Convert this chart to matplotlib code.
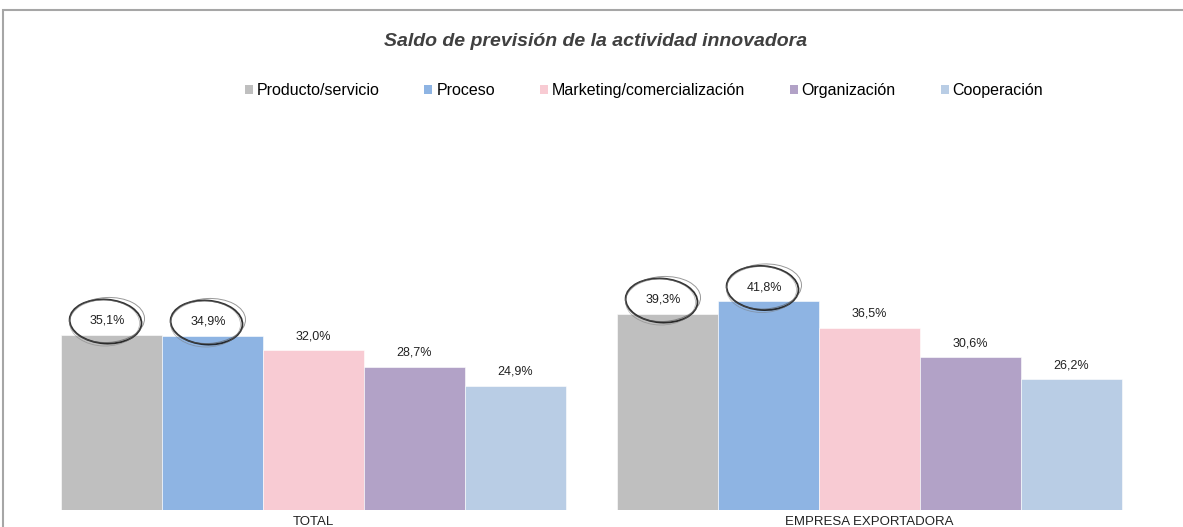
import numpy as np
import matplotlib
matplotlib.use("Agg")
import matplotlib.pyplot as plt
import matplotlib.transforms as mtransforms
from matplotlib.patches import Patch, Ellipse, Rectangle

plt.rcParams['font.family'] = ['Liberation Sans', 'DejaVu Sans']

groups = ['TOTAL', 'EMPRESA EXPORTADORA']
series = ['Producto/servicio', 'Proceso', 'Marketing/comercialización',
          'Organización', 'Cooperación']
values = [
    [35.1, 39.3],   # Producto/servicio
    [34.9, 41.8],   # Proceso
    [32.0, 36.5],   # Marketing/comercialización
    [28.7, 30.6],   # Organización
    [24.9, 26.2],   # Cooperación
]
colors = ['#BFBFBF', '#8EB4E3', '#F8CBD3', '#B2A2C7', '#B9CDE5']
# labels circled by hand in the original (series index, group index)
circled = [(0, 0), (1, 0), (0, 1), (1, 1)]

W, H = 1183, 527
fig = plt.figure(figsize=(W / 100, H / 100), dpi=100)
ax = fig.add_axes([35.5 / W, 17 / H, 1112 / W, 395 / H])

# chart frame (cut at right / bottom)
fig.patches.append(Rectangle((3 / W, -0.1), 1.2, (H - 10) / H + 0.1,
                             transform=fig.transFigure, fill=False,
                             edgecolor='#A6A6A6', lw=1.5))

ax.set_xlim(-0.5, 1.5)
ax.set_ylim(0, 79)

x = np.arange(len(groups))
bw = 0.908 / len(series)
for i, (name, vals) in enumerate(zip(series, values)):
    pos = x - 0.454 + bw * (i + 0.5)
    ax.bar(pos, vals, width=bw, color=colors[i], edgecolor='white', lw=0.4)
    for j, (p, v) in enumerate(zip(pos, vals)):
        ax.annotate(f'{v:.1f}%'.replace('.', ','), (p, v),
                    xytext=(-3 if (i, j) in circled else 0, 10),
                    textcoords='offset points', ha='center', va='center',
                    fontsize=9, color='#222222')
        if (i, j) in circled:
            # sketchy hand drawn ellipse around the label, sized in inches
            tr = fig.dpi_scale_trans + mtransforms.ScaledTranslation(p, v, ax.transData)
            strokes = [(0, 0, 0, 0, -4, '#1a1a1a', 1.3, 0.9),
                       (1.5, 1.5, 3, 1, 3, '#555555', 0.7, 0.6),
                       (-1, -1.5, -2, 2, -1, '#777777', 0.6, 0.5)]
            for dx, dy, dw, dh, ang, col, lw, al in strokes:
                ax.add_patch(Ellipse(((-6 + dx) / 100, (13 + dy) / 100),
                                     (72 + dw) / 100, (44 + dh) / 100,
                                     angle=ang, fill=False, edgecolor=col,
                                     lw=lw, alpha=al, clip_on=False,
                                     transform=tr))

ax.set_xticks(x)
ax.set_xticklabels(groups, fontsize=9.5, color='#222222')
ax.tick_params(axis='x', length=0, pad=4)
ax.set_yticks([])
for s in ax.spines.values():
    s.set_visible(False)

fig.text(596 / W, 1 - 41 / H, 'Saldo de previsión de la actividad innovadora',
         ha='center', va='center', fontsize=14, fontweight='bold',
         fontstyle='italic', color='#404040')

handles = [Patch(facecolor=c, edgecolor='none') for c in colors]
fig.legend(handles, series, loc='center', bbox_to_anchor=(644 / W, 1 - 91 / H),
           ncol=5, frameon=False, fontsize=11.5, handlelength=0.5,
           handleheight=0.5, handletextpad=0.25, columnspacing=2.8)

fig.savefig('out.png', dpi=100)
